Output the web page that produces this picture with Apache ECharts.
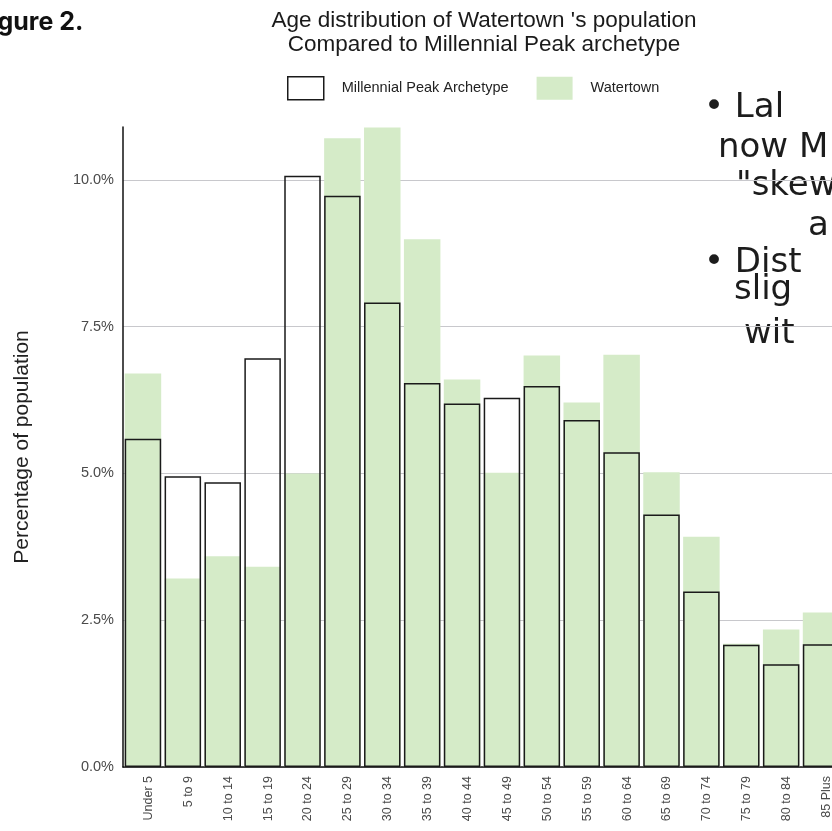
<!DOCTYPE html>
<html>
<head>
<meta charset="utf-8">
<title>Age distribution of Watertown</title>
<script src="https://cdn.jsdelivr.net/npm/echarts@6/dist/echarts.min.js"></script>
<style>
  html, body { margin: 0; padding: 0; background: #fff; }
  #chart { width: 832px; height: 831px; }
</style>
</head>
<body>
<div id="chart"></div>
<script>
// age groups on the x axis
const ageGroups = ['Under 5', '5 to 9', '10 to 14', '15 to 19', '20 to 24', '25 to 29',
  '30 to 34', '35 to 39', '40 to 44', '45 to 49', '50 to 54', '55 to 59',
  '60 to 64', '65 to 69', '70 to 74', '75 to 79', '80 to 84', '85 Plus']
// Watertown share (%), green bars
const watertown = [6.70, 3.21, 3.59, 3.41, 5.00, 10.71, 10.89, 8.99, 6.60, 5.01,
  7.01, 6.21, 7.02, 5.02, 3.92, 2.10, 2.34, 2.63]
// Millennial Peak archetype share (%), outlined bars
const archetype = [5.59, 4.95, 4.85, 6.96, 10.07, 9.73, 7.91, 6.54, 6.19, 6.29,
  6.49, 5.91, 5.36, 4.30, 2.99, 2.08, 1.75, 2.09]
// y axis ticks
const yTicks = [0, 2.5, 5, 7.5, 10]
const yMax = 10.9

// handwritten notes in the margin (cut off by the scan)
const notes = [
  { text: '• Lal', x: 704, y: 91 },
  { text: 'now M', x: 718, y: 131 },
  { text: '"skew', x: 736, y: 169 },
  { text: 'a', x: 808, y: 209 },
  { text: '• Dist', x: 704, y: 246 },
  { text: 'slig', x: 734, y: 273 },
  { text: 'wit', x: 744, y: 317 }
]

const myChart = echarts.init(document.getElementById('chart'))

const labelColor = '#4a4a4a'
const green = '#d5ebc8'

myChart.setOption({
  animation: false,
  backgroundColor: '#fff',
  title: {
    text: "Age distribution of Watertown 's population\nCompared to Millennial Peak archetype",
    left: 479,
    top: 4,
    textAlign: 'center',
    textStyle: {
      fontFamily: 'Liberation Sans, Arial',
      fontWeight: 'normal',
      fontSize: 22.5,
      lineHeight: 24,
      color: '#1a1a1a'
    }
  },
  legend: {
    left: 282,
    top: 71,
    itemWidth: 36,
    itemHeight: 23,
    itemGap: 28,
    icon: 'rect',
    textStyle: {
      fontFamily: 'Liberation Sans, Arial',
      fontSize: 14.5,
      color: '#222',
      padding: [0, 0, 0, 13]
    },
    data: [
      { name: 'Millennial Peak Archetype', itemStyle: { color: '#fff', borderColor: '#1a1a1a', borderWidth: 1.5 } },
      { name: 'Watertown', itemStyle: { color: green, borderWidth: 0 } }
    ]
  },
  grid: {
    left: 123,
    top: 127,
    width: 718,
    height: 640,
    outerBoundsMode: 'none'
  },
  xAxis: {
    type: 'category',
    data: ageGroups,
    axisTick: { show: false },
    axisLine: { lineStyle: { color: '#111', width: 1.5 } },
    axisLabel: {
      interval: 0,
      rotate: 90,
      margin: 9,
      fontFamily: 'Liberation Sans, Arial',
      fontSize: 12.5,
      color: labelColor,
      formatter: function (v) {
        return '{a|' + v + '}'
      },
      rich: {
        a: {
          fontFamily: 'Liberation Sans, Arial',
          fontSize: 12.5,
          color: labelColor,
          padding: [11, 0, 0, 0]
        }
      }
    }
  },
  yAxis: {
    type: 'value',
    min: yTicks[0],
    max: yMax,
    interval: yTicks[1] - yTicks[0],
    name: 'Percentage of population',
    nameLocation: 'middle',
    nameGap: 90,
    nameTextStyle: {
      fontFamily: 'Liberation Sans, Arial',
      fontSize: 21,
      color: '#222'
    },
    axisLine: { show: true, lineStyle: { color: '#111', width: 1.5 } },
    axisTick: { show: false },
    axisLabel: {
      showMaxLabel: false,
      margin: 9,
      fontFamily: 'Liberation Sans, Arial',
      fontSize: 14.5,
      color: labelColor,
      formatter: function (v) {
        return yTicks.indexOf(v) >= 0 ? v.toFixed(1) + '%' : ''
      }
    },
    splitLine: {
      show: true,
      showMaxLine: false,
      lineStyle: { color: '#c8c8cc', width: 1 }
    }
  },
  series: [
    {
      name: 'Watertown',
      type: 'bar',
      data: watertown,
      barCategoryGap: '8.5%',
      itemStyle: { color: green }
    },
    {
      name: 'Millennial Peak Archetype',
      type: 'bar',
      data: archetype,
      barGap: '-100%',
      itemStyle: {
        color: 'rgba(0,0,0,0)',
        borderColor: '#1a1a1a',
        borderWidth: 1.5
      }
    }
  ],
  graphic: [
    {
      type: 'text',
      left: -24,
      top: 10,
      style: {
        text: 'Figure 2.',
        fontFamily: 'Inter, Noto Sans, sans-serif',
        fontWeight: 'bold',
        fontSize: 25,
        fill: '#111'
      }
    }
  ].concat(notes.map(function (n) {
    return {
      type: 'text',
      x: n.x,
      y: n.y,
      style: {
        text: n.text,
        fontFamily: 'DejaVu Sans',
        fontSize: 34,
        fill: '#1c1c1c'
      }
    }
  }))
})
</script>
</body>
</html>
